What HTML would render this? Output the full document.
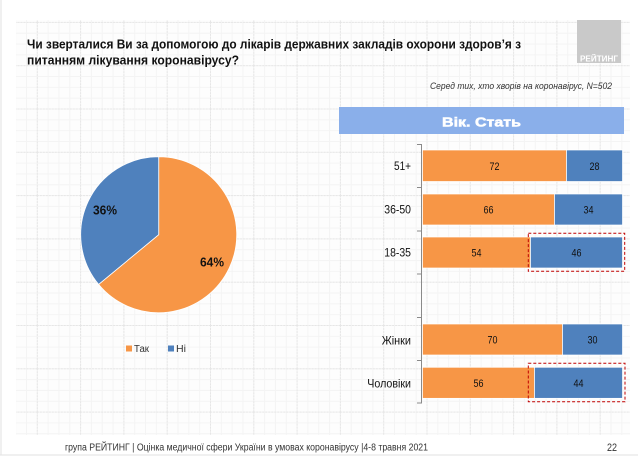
<!DOCTYPE html>
<html><head><meta charset="utf-8"><style>
html,body{margin:0;padding:0;background:#fff;}
svg{display:block;}
text{font-family:"Liberation Sans",Arial,sans-serif;}
</style></head><body>
<svg width="638" height="456" viewBox="0 0 638 456" xmlns="http://www.w3.org/2000/svg">
<defs>
<pattern id="minor" x="-6.5" y="21.9" width="10.825" height="10.825" patternUnits="userSpaceOnUse">
<path d="M0.5 0V10.825M0 0.5H10.825" stroke="#f4f4f4" stroke-width="1" fill="none"/>
</pattern>
<pattern id="major" x="-6.5" y="21.9" width="43.3" height="43.3" patternUnits="userSpaceOnUse">
<path d="M0.5 0V43.3M0 0.5H43.3" stroke="#e6e6e6" stroke-width="1" stroke-dasharray="2,1" fill="none"/>
</pattern>
</defs>
<rect x="0" y="0" width="638" height="456" fill="#fff"/>
<rect x="16" y="20" width="614" height="415" fill="#fdfdfd"/>
<rect x="16" y="20" width="614" height="415" fill="url(#minor)"/>
<rect x="16" y="20" width="614" height="415" fill="url(#major)"/>
<line x1="1" y1="0" x2="1" y2="455" stroke="#e2e2e2" stroke-width="1"/>
<line x1="0" y1="455" x2="638" y2="455" stroke="#e2e2e2" stroke-width="1"/>

<!-- Logo -->
<rect x="577" y="20" width="44" height="43" fill="#c9c9c9"/>
<text x="599" y="61.5" font-size="8" font-weight="bold" fill="#fff" text-anchor="middle" textLength="38" lengthAdjust="spacingAndGlyphs">РЕЙТИНГ</text>

<!-- Title -->
<text x="27" y="48.5" font-size="13" font-weight="bold" fill="#111" textLength="494" lengthAdjust="spacingAndGlyphs">Чи зверталися Ви за допомогою до лікарів державних закладів охорони здоров’я з</text>
<text x="27" y="64.5" font-size="13" font-weight="bold" fill="#111" textLength="212" lengthAdjust="spacingAndGlyphs">питанням лікування коронавірусу?</text>

<text x="430" y="89" font-size="9.5" font-style="italic" fill="#333" textLength="182" lengthAdjust="spacingAndGlyphs">Серед тих, хто хворів на коронавірус, N=502</text>

<!-- Band -->
<rect x="339" y="107" width="285" height="27" fill="#8aafea"/>
<text x="442" y="126.7" font-size="13" font-weight="bold" fill="#fff" stroke="#fff" stroke-width="0.5" textLength="79" lengthAdjust="spacingAndGlyphs">Вік. Стать</text>

<!-- Pie -->
<path d="M158.7 234.7 L158.7 156.7 A78 78 0 1 1 98.6 284.4 Z" fill="#f79646" stroke="#fff" stroke-width="0.8"/>
<path d="M158.7 234.7 L98.6 284.4 A78 78 0 0 1 158.7 156.7 Z" fill="#4f81bd" stroke="#fff" stroke-width="0.8"/>
<text x="93" y="214.5" font-size="13" font-weight="bold" fill="#111" textLength="24" lengthAdjust="spacingAndGlyphs">36%</text>
<text x="200" y="266.7" font-size="13" font-weight="bold" fill="#111" textLength="24" lengthAdjust="spacingAndGlyphs">64%</text>

<!-- Pie legend -->
<rect x="126" y="345.5" width="6" height="6" fill="#f79646"/>
<text x="134" y="352" font-size="10" fill="#333" textLength="15" lengthAdjust="spacingAndGlyphs">Так</text>
<rect x="168" y="345.5" width="6" height="6" fill="#4f81bd"/>
<text x="176" y="352" font-size="10" fill="#333" textLength="10" lengthAdjust="spacingAndGlyphs">Ні</text>

<!-- Bars axis -->
<line x1="421.5" y1="144" x2="421.5" y2="403.5" stroke="#8a8a8a" stroke-width="1"/>
<g stroke="#8a8a8a" stroke-width="1">
<line x1="417" y1="144.5" x2="421.5" y2="144.5"/>
<line x1="417" y1="187.5" x2="421.5" y2="187.5"/>
<line x1="417" y1="231" x2="421.5" y2="231"/>
<line x1="417" y1="274" x2="421.5" y2="274"/>
<line x1="417" y1="317.5" x2="421.5" y2="317.5"/>
<line x1="417" y1="360.5" x2="421.5" y2="360.5"/>
<line x1="417" y1="403" x2="421.5" y2="403"/>
</g>

<!-- Bars -->
<g stroke="#fff" stroke-width="0.7">
<rect x="422.5" y="150" width="144" height="31.5" fill="#f79646"/>
<rect x="566.5" y="150" width="56" height="31.5" fill="#4f81bd"/>
<rect x="422.5" y="194" width="132" height="31" fill="#f79646"/>
<rect x="554.5" y="194" width="68" height="31" fill="#4f81bd"/>
<rect x="422.5" y="237" width="108" height="31" fill="#f79646"/>
<rect x="530.5" y="237" width="92" height="31" fill="#4f81bd"/>
<rect x="422.5" y="324" width="140" height="31" fill="#f79646"/>
<rect x="562.5" y="324" width="60" height="31" fill="#4f81bd"/>
<rect x="422.5" y="367.3" width="112" height="31" fill="#f79646"/>
<rect x="534.5" y="367.3" width="88" height="31" fill="#4f81bd"/>
</g>

<!-- Values -->
<g font-size="11" fill="#111" text-anchor="middle">
<text x="494.5" y="170" textLength="10" lengthAdjust="spacingAndGlyphs">72</text>
<text x="594.5" y="170" textLength="10" lengthAdjust="spacingAndGlyphs">28</text>
<text x="488.5" y="213.5" textLength="10" lengthAdjust="spacingAndGlyphs">66</text>
<text x="588.5" y="213.5" textLength="10" lengthAdjust="spacingAndGlyphs">34</text>
<text x="476.5" y="256.5" textLength="10" lengthAdjust="spacingAndGlyphs">54</text>
<text x="576.5" y="256.5" textLength="10" lengthAdjust="spacingAndGlyphs">46</text>
<text x="492.5" y="343.5" textLength="10" lengthAdjust="spacingAndGlyphs">70</text>
<text x="592.5" y="343.5" textLength="10" lengthAdjust="spacingAndGlyphs">30</text>
<text x="478.5" y="387" textLength="10" lengthAdjust="spacingAndGlyphs">56</text>
<text x="578.5" y="387" textLength="10" lengthAdjust="spacingAndGlyphs">44</text>
</g>

<!-- Category labels -->
<g font-size="12" fill="#111">
<text x="394" y="170" textLength="17" lengthAdjust="spacingAndGlyphs">51+</text>
<text x="384.3" y="213.5" textLength="26.7" lengthAdjust="spacingAndGlyphs">36-50</text>
<text x="384.3" y="256.5" textLength="26.7" lengthAdjust="spacingAndGlyphs">18-35</text>
<text x="381.7" y="344.5" textLength="29.3" lengthAdjust="spacingAndGlyphs">Жінки</text>
<text x="367.3" y="387.5" textLength="43.7" lengthAdjust="spacingAndGlyphs">Чоловіки</text>
</g>

<!-- Dashed highlight boxes -->
<rect x="528.3" y="233.3" width="96.4" height="38" fill="none" stroke="#c00000" stroke-width="1" stroke-dasharray="3,2"/>
<rect x="528.3" y="363.3" width="96.7" height="38.4" fill="none" stroke="#c00000" stroke-width="1" stroke-dasharray="3,2"/>

<!-- Footer -->
<text x="65" y="450.5" font-size="10" fill="#333" textLength="363" lengthAdjust="spacingAndGlyphs">група РЕЙТИНГ  |  Оцінка медичної сфери України в умовах коронавірусу  |4-8 травня 2021</text>
<text x="617" y="451" font-size="11" fill="#333" text-anchor="end" textLength="10" lengthAdjust="spacingAndGlyphs">22</text>
</svg>
</body></html>
